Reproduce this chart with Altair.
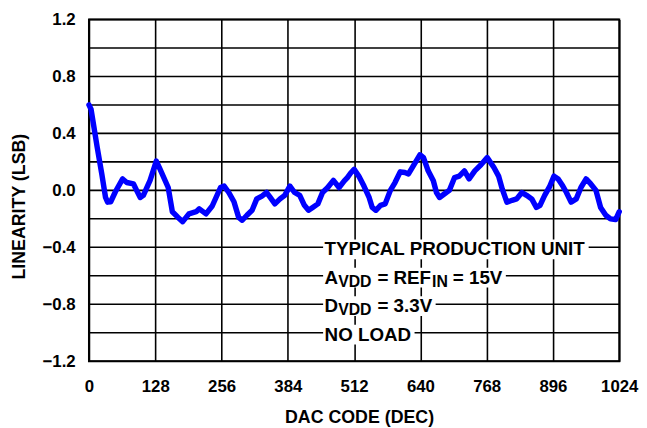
import altair as alt
import pandas as pd

# ---- data ----
codes = [0, 4, 16, 25, 32, 36, 42, 51, 65, 73, 86, 92, 99, 105, 118, 130, 137, 153,
         161, 172, 181, 193, 207, 213, 226, 238, 254, 261, 270, 280, 289, 296, 305,
         315, 324, 334, 343, 350, 359, 369, 378, 388, 397, 407, 416, 424, 432, 442,
         451, 461, 472, 483, 493, 499, 505, 512, 521, 531, 541, 547, 554, 563, 572,
         582, 591, 601, 610, 617, 626, 639, 646, 655, 665, 671, 677, 690, 696, 706,
         715, 725, 734, 745, 757, 769, 782, 791, 798, 807, 817, 826, 836, 845, 855,
         864, 871, 880, 890, 898, 906, 915, 922, 931, 941, 950, 960, 969, 979, 988,
         998, 1007, 1017, 1024]
linearity = [0.60, 0.57, 0.30, 0.11, -0.05, -0.083, -0.08, -0.01, 0.08, 0.055, 0.045,
             0.0, -0.05, -0.035, 0.07, 0.206, 0.15, 0.02, -0.15, -0.19, -0.22, -0.165,
             -0.15, -0.13, -0.165, -0.11, 0.02, 0.03, -0.015, -0.08, -0.19, -0.21,
             -0.175, -0.14, -0.06, -0.04, -0.015, -0.05, -0.095, -0.06, -0.035, 0.03,
             -0.015, -0.035, -0.105, -0.14, -0.12, -0.095, -0.015, 0.02, 0.07, 0.02,
             0.067, 0.09, 0.12, 0.148, 0.10, 0.03, -0.05, -0.12, -0.14, -0.105, -0.095,
             0.0, 0.055, 0.13, 0.125, 0.115, 0.17, 0.25, 0.23, 0.137, 0.067, -0.015,
             -0.05, -0.015, 0.0, 0.09, 0.10, 0.137, 0.08, 0.137, 0.18, 0.23, 0.16, 0.10,
             0.01, -0.083, -0.07, -0.06, -0.015, -0.035, -0.06, -0.12, -0.105, -0.035,
             0.03, 0.10, 0.08, 0.03, -0.015, -0.083, -0.06, 0.02, 0.08, 0.045, 0.0,
             -0.12, -0.175, -0.2, -0.205, -0.15]

x_ticks = [0, 128, 256, 384, 512, 640, 768, 896, 1024]
y_labels = [-1.2, -0.8, -0.4, 0.0, 0.4, 0.8, 1.2]
y_grid = [-1.2, -1.0, -0.8, -0.6, -0.4, -0.2, 0.0, 0.2, 0.4, 0.6, 0.8, 1.0, 1.2]

# annotation lines: (text, is_subscript, gap before in px) pieces, on grid levels
note_lines = [
    [("TYPICAL PRODUCTION UNIT", False, 0)],
    [("A", False, 0), ("VDD", True, 0), ("= REF", False, 6), ("IN", True, 1),
     ("= 15V", False, 5)],
    [("D", False, 0), ("VDD", True, 0), ("= 3.3V", False, 6)],
    [("NO LOAD", False, 0)],
]
note_levels = [-0.4, -0.6, -0.8, -1.0]
note_start_code = 455

# ---- layout ----
W, H = 537, 346
FONT = "Liberation Sans"
MAIN, SUB = 19, 16
px_per_code = W / 1024
px_per_unit = H / 2.4

# Arial/Liberation Sans Bold advance widths (em)
adv = {"A": .722, "B": .722, "C": .722, "D": .722, "E": .667, "F": .611, "I": .278,
       "L": .611, "N": .722, "O": .778, "P": .667, "R": .722, "T": .611, "U": .722,
       "V": .667, "Y": .667, " ": .278, "=": .584, ".": .278, "1": .556, "3": .556,
       "5": .556}

rows, boxes = [], []
for pieces, lvl in zip(note_lines, note_levels):
    off = 0.0
    for txt, sub, gap in pieces:
        size = SUB if sub else MAIN
        off += gap
        rows.append({
            "t": txt,
            "x": note_start_code + off / px_per_code,
            "y": lvl - (2 + (4 if sub else 0)) / px_per_unit,
            "s": size,
        })
        off += sum(adv[c] for c in txt) * size
    boxes.append({
        "x1": note_start_code - 1.5 / px_per_code,
        "x2": note_start_code + (off + 3.5) / px_per_code,
        "y1": lvl - 12 / px_per_unit,
        "y2": lvl + 8 / px_per_unit,
    })
notes = pd.DataFrame(rows)
box_df = pd.DataFrame(boxes)

df = pd.DataFrame({"code": codes, "lin": linearity})
grid_df = pd.DataFrame({"g": y_grid})

xs = alt.Scale(domain=[0, 1024], nice=False, zero=False)
ys = alt.Scale(domain=[-1.2, 1.2], nice=False, zero=False)

x_axis = alt.Axis(
    values=x_ticks, format="d", title="DAC CODE (DEC)", grid=True, ticks=False,
    domain=False, labelFlush=False, labelPadding=18, labelOverlap=False,
    titleX=W / 2 + 5, titleY=57, titleBaseline="middle")
y_axis = alt.Axis(
    values=y_labels, format=".1f", title="LINEARITY (LSB)", grid=False,
    ticks=False, domain=False, labelOverlap=False, labelPadding=14,
    labelFlush=False,
    titleX=-70, titleY=H / 2 + 16, titleBaseline="middle", titleAngle=-90)

hgrid = alt.Chart(grid_df).mark_rule(color="black", strokeWidth=1.6).encode(
    y=alt.Y("g:Q", scale=ys, axis=y_axis))

line = alt.Chart(df).mark_line(color="#0000FF", strokeWidth=5.5, strokeJoin="round",
                               strokeCap="round").encode(
    x=alt.X("code:Q", scale=xs, axis=x_axis),
    y=alt.Y("lin:Q", scale=ys, axis=y_axis),
)

bg = alt.Chart(box_df).mark_rect(color="white").encode(
    x=alt.X("x1:Q", scale=xs, axis=x_axis), x2="x2:Q",
    y=alt.Y("y1:Q", scale=ys, axis=y_axis), y2="y2:Q")

txt = alt.Chart(notes).mark_text(align="left", baseline="middle", font=FONT,
                                 fontWeight="bold", color="black").encode(
    x=alt.X("x:Q", scale=xs, axis=x_axis), y=alt.Y("y:Q", scale=ys, axis=y_axis),
    size=alt.Size("s:Q", scale=None, legend=None), text="t:N")

chart = alt.layer(hgrid, line, bg, txt).properties(
    width=W, height=H,
    autosize=alt.AutoSizeParams(type="none"),
    padding={"left": 82, "top": 9, "right": 20, "bottom": 65},
    background="white",
).configure_view(stroke="black", strokeWidth=2).configure_axis(
    gridColor="black", gridWidth=1.6, gridOpacity=1,
    labelFont=FONT, labelFontWeight="bold", labelFontSize=17, labelColor="black",
    titleFont=FONT, titleFontWeight="bold", titleFontSize=18, titleColor="black",
)

chart.save("out.html", embed_options={"renderer": "svg", "actions": False})
